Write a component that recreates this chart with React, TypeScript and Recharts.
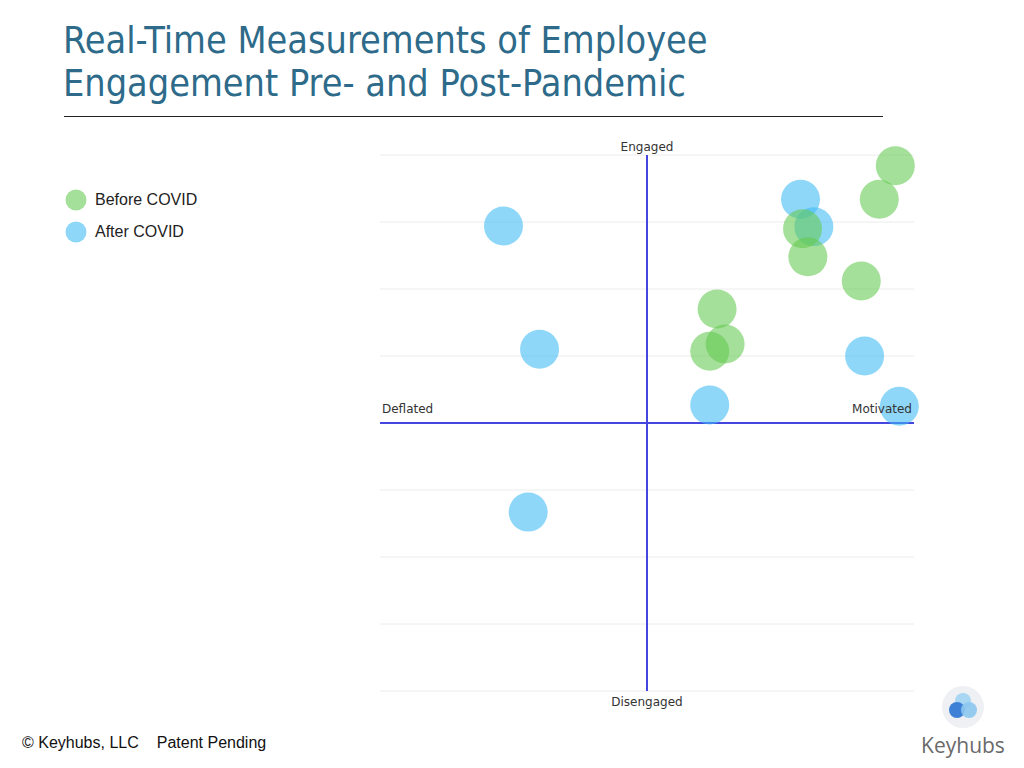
import React from 'react';
import {
  ScatterChart,
  Scatter,
  XAxis,
  YAxis,
  CartesianGrid,
  ReferenceLine,
  Legend,
} from 'recharts';

const titleLines = ['Real-Time Measurements of Employee', 'Engagement Pre- and Post-Pandemic'];
const seriesNames = ['Before COVID', 'After COVID'];
const beforeX = [3.72, 3.48, 2.33, 2.41, 3.21, 1.05, 1.17, 0.94];
const beforeY = [3.84, 3.34, 2.9, 2.48, 2.12, 1.7, 1.18, 1.07];
const afterX = [-2.15, 2.3, 2.5, -1.61, 3.26, 0.94, 3.78, -1.78];
const afterY = [2.94, 3.34, 2.93, 1.1, 1.0, 0.27, 0.25, -1.33];
const gridTicks = [-4, -3, -2, -1, 0, 1, 2, 3, 4];
const quadrantLabels = { top: 'Engaged', bottom: 'Disengaged', left: 'Deflated', right: 'Motivated' };
const footerLeft = '© Keyhubs, LLC';
const footerRight = 'Patent Pending';
const brand = 'Keyhubs';

const GREEN = '#64ca51';
const BLUE = '#3ebaf3';
const OPACITY = 0.58;
const AXIS_BLUE = '#4545e0';
const BUBBLE_R = 19.5;

const beforeData = beforeX.map((x, i) => ({ x, y: beforeY[i] }));
const afterData = afterX.map((x, i) => ({ x, y: afterY[i] }));

const smallFont = '"DejaVu Sans", sans-serif';

const makeBubble = (color: string) => (props: any) => (
  <circle cx={props.cx} cy={props.cy} r={BUBBLE_R} fill={color} fillOpacity={OPACITY} />
);

const LegendContent = (props: any) => {
  const payload = [...(props.payload || [])].sort(
    (a: any, b: any) => seriesNames.indexOf(a.value) - seriesNames.indexOf(b.value)
  );
  return (
    <div style={{ fontFamily: '"Liberation Sans", Arial, sans-serif', fontSize: 16, color: '#222' }}>
      {payload.map((p: any, i: number) => (
        <div key={i} style={{ display: 'flex', alignItems: 'center', height: 32 }}>
          <svg width={22} height={22} style={{ marginRight: 8 }}>
            <circle cx={11} cy={11} r={10.5} fill={p.color} fillOpacity={OPACITY} />
          </svg>
          <span>{p.value}</span>
        </div>
      ))}
    </div>
  );
};

export default function App() {
  return (
    <div
      style={{
        position: 'absolute',
        left: 0,
        top: 0,
        width: 1024,
        height: 768,
        background: '#fff',
        overflow: 'hidden',
      }}
    >
      <div
        style={{
          position: 'absolute',
          left: 63,
          top: 19,
          fontFamily: '"DejaVu Sans Condensed", "DejaVu Sans", sans-serif',
          fontSize: 37.5,
          lineHeight: '43px',
          color: '#2e6b8a',
          whiteSpace: 'nowrap',
        }}
      >
        {titleLines.map((t, i) => (
          <div key={i}>{t}</div>
        ))}
      </div>
      <div
        style={{
          position: 'absolute',
          left: 64,
          top: 116,
          width: 819,
          height: 1,
          background: '#222',
        }}
      />
      <div style={{ position: 'absolute', left: 0, top: 0 }}>
        <ScatterChart width={1024} height={768} margin={{ left: 380, right: 110, top: 155, bottom: 77 }}>
          <CartesianGrid vertical={false} stroke="#ececec" />
          <XAxis type="number" dataKey="x" domain={[-4, 4]} hide />
          <YAxis type="number" dataKey="y" domain={[-4, 4]} ticks={gridTicks} hide />
          <Legend
            layout="horizontal"
            verticalAlign="middle"
            align="center"
            content={<LegendContent />}
            wrapperStyle={{ left: 65, top: 184, width: 200, height: 70 }}
          />
          <ReferenceLine
            y={0}
            stroke={AXIS_BLUE}
            strokeWidth={2}
            label={{ value: quadrantLabels.left, position: 'insideBottomLeft', offset: 2, dy: -8, fill: '#333', fontSize: 12, fontFamily: smallFont }}
          />
          <ReferenceLine
            y={0}
            stroke="none"
            label={{ value: quadrantLabels.right, position: 'insideBottomRight', offset: 2, dy: -8, fill: '#333', fontSize: 12, fontFamily: smallFont }}
          />
          <ReferenceLine
            x={0}
            stroke={AXIS_BLUE}
            strokeWidth={2}
            label={{ value: quadrantLabels.top, position: 'top', offset: 4, fill: '#333', fontSize: 12, fontFamily: smallFont }}
          />
          <ReferenceLine
            x={0}
            stroke="none"
            label={{ value: quadrantLabels.bottom, position: 'bottom', offset: 6, fill: '#333', fontSize: 12, fontFamily: smallFont }}
          />
          <Scatter name={seriesNames[1]} data={afterData} fill={BLUE} shape={makeBubble(BLUE)} isAnimationActive={false} />
          <Scatter name={seriesNames[0]} data={beforeData} fill={GREEN} shape={makeBubble(GREEN)} isAnimationActive={false} />
        </ScatterChart>
      </div>
      <div
        style={{
          position: 'absolute',
          left: 22,
          top: 734,
          fontFamily: '"Liberation Sans", Arial, sans-serif',
          fontSize: 16,
          color: '#111',
          whiteSpace: 'nowrap',
        }}
      >
        {footerLeft}
        <span style={{ marginLeft: 18 }}>{footerRight}</span>
      </div>
      <svg style={{ position: 'absolute', left: 915, top: 680 }} width={100} height={80}>
        <circle cx={48} cy={27} r={21} fill="#eef0f3" />
        <circle cx={48} cy={21} r={8} fill="#a8d6f3" />
        <circle cx={42} cy={30} r={8} fill="#3d80d6" />
        <circle cx={54} cy={30} r={8} fill="#8cc6ef" fillOpacity={0.9} />
        <text
          x={48}
          y={73}
          textAnchor="middle"
          fontFamily='"Open Sans", sans-serif'
          fontSize={21}
          fill="#6a6a6a"
        >
          {brand}
        </text>
      </svg>
    </div>
  );
}
